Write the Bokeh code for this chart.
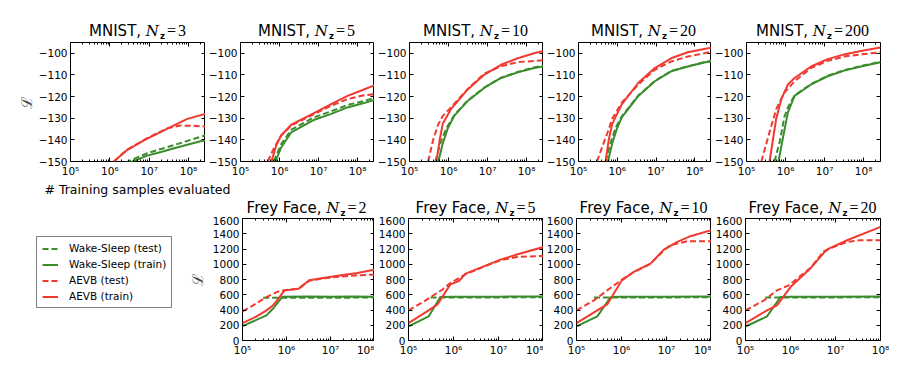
from bokeh.plotting import figure
from bokeh.layouts import row, column
from bokeh.models import (FixedTicker, CustomJSTickFormatter, LinearAxis, LogAxis,
                          Legend, LegendItem, Range1d, Div)
from bokeh.embed import file_html
from bokeh.resources import INLINE

# ---------------- data ----------------
mnist_nz = [3, 5, 10, 20, 200]
frey_nz = [2, 5, 10, 20]
series_labels = ["Wake-Sleep (test)", "Wake-Sleep (train)", "AEVB (test)", "AEVB (train)"]
mnist_yticks = [-150, -140, -130, -120, -110, -100]
frey_yticks = [0, 200, 400, 600, 800, 1000, 1200, 1400, 1600]
x_major = [1e5, 1e6, 1e7, 1e8]
x_label = "# Training samples evaluated"
y_label = "\u2112"

# MNIST, Nz=3
m3_ws_test_x = [2.5e6, 8.9e6, 2.0e7, 4.3e7, 2.0e8, 2.7e8]
m3_ws_test_y = [-150.5, -146.2, -144.2, -142.4, -138.6, -137.9]
m3_ws_train_x = [2.8e6, 8.9e6, 2.0e7, 4.3e7, 2.0e8, 2.7e8]
m3_ws_train_y = [-151.0, -147.3, -145.6, -143.9, -140.6, -140.2]
m3_aevb_test_x = [1.26e6, 2.75e6, 5.0e6, 8.9e6, 1.95e7, 2.9e7, 6.3e7, 1.26e8, 2.7e8]
m3_aevb_test_y = [-150.0, -144.5, -141.8, -139.2, -136.2, -134.6, -133.4, -133.5, -133.8]
m3_aevb_train_x = [1.26e6, 2.75e6, 5.0e6, 8.9e6, 1.95e7, 2.9e7, 9.3e7, 2.7e8]
m3_aevb_train_y = [-150.0, -144.7, -142.0, -139.4, -136.4, -134.8, -130.3, -128.0]

# MNIST, Nz=5
m5_ws_test_x = [7.1e5, 1.1e6, 2.0e6, 7.8e6, 2.1e7, 5.5e7, 1.45e8, 2.7e8]
m5_ws_test_y = [-150.0, -142.0, -135.3, -129.5, -126.8, -123.9, -122.0, -120.6]
m5_ws_train_x = [7.9e5, 1.1e6, 2.0e6, 7.8e6, 2.1e7, 5.5e7, 1.45e8, 2.7e8]
m5_ws_train_y = [-150.0, -143.5, -136.5, -130.7, -128.0, -125.0, -123.0, -121.5]
m5_aevb_test_x = [5.0e5, 6.8e5, 1.1e6, 2.0e6, 7.8e6, 2.1e7, 5.5e7, 1.45e8, 2.7e8]
m5_aevb_test_y = [-150.0, -144.7, -137.9, -133.3, -128.0, -124.2, -121.2, -119.4, -118.9]
m5_aevb_train_x = [6.2e5, 8.3e5, 1.1e6, 2.0e6, 7.8e6, 2.1e7, 5.5e7, 1.45e8, 2.7e8]
m5_aevb_train_y = [-150.0, -142.4, -138.0, -133.0, -127.5, -123.5, -119.7, -116.7, -114.8]

# MNIST, Nz=10
m10_ws_test_x = [4.6e5, 6.3e5, 8.9e5, 1.41e6, 3.1e6, 8.3e6, 2.2e7, 5.9e7, 1.55e8, 2.7e8]
m10_ws_test_y = [-150.0, -141.0, -134.5, -128.5, -121.8, -115.8, -111.3, -108.6, -106.5, -105.7]
m10_ws_train_x = [5.5e5, 7.1e5, 9.5e5, 1.41e6, 3.1e6, 8.3e6, 2.2e7, 5.9e7, 1.55e8, 2.7e8]
m10_ws_train_y = [-150.0, -141.7, -134.8, -128.8, -122.0, -115.9, -111.4, -108.8, -106.8, -106.0]
m10_aevb_test_x = [3.0e5, 4.0e5, 5.4e5, 7.1e5, 1.15e6, 3.1e6, 8.3e6, 2.2e7, 5.9e7, 1.55e8, 2.7e8]
m10_aevb_test_y = [-150.0, -140.2, -133.0, -129.0, -125.0, -116.5, -109.3, -106.0, -104.1, -103.5, -103.2]
m10_aevb_train_x = [4.9e5, 5.9e5, 7.1e5, 1.15e6, 3.1e6, 8.3e6, 2.2e7, 5.9e7, 1.55e8, 2.7e8]
m10_aevb_train_y = [-150.0, -140.2, -132.6, -125.8, -116.7, -109.8, -105.3, -102.3, -100.0, -98.9]

# MNIST, Nz=20
m20_ws_test_x = [5.0e5, 6.8e5, 9.3e5, 1.32e6, 3.5e6, 9.3e6, 2.45e7, 6.6e7, 1.74e8, 2.7e8]
m20_ws_test_y = [-150.0, -141.0, -134.0, -129.0, -119.5, -112.8, -108.2, -106.0, -104.1, -103.5]
m20_ws_train_x = [5.75e5, 7.4e5, 9.8e5, 1.32e6, 3.5e6, 9.3e6, 2.45e7, 6.6e7, 1.74e8, 2.7e8]
m20_ws_train_y = [-150.0, -141.7, -134.8, -129.5, -119.7, -112.9, -108.3, -106.1, -104.2, -103.6]
m20_aevb_test_x = [3.0e5, 4.1e5, 5.5e5, 7.4e5, 1.32e6, 3.5e6, 9.3e6, 2.45e7, 6.6e7, 1.74e8, 2.7e8]
m20_aevb_test_y = [-150.0, -143.2, -137.1, -130.3, -122.7, -114.4, -107.6, -103.8, -101.5, -100.0, -99.3]
m20_aevb_train_x = [5.0e5, 6.0e5, 7.4e5, 1.32e6, 3.5e6, 9.3e6, 2.45e7, 6.6e7, 1.74e8, 2.7e8]
m20_aevb_train_y = [-150.0, -140.2, -132.6, -123.5, -113.6, -106.8, -102.3, -99.5, -98.0, -97.4]

# MNIST, Nz=200
m200_ws_test_x = [5.2e5, 7.1e5, 9.3e5, 1.15e6, 1.7e6, 4.5e6, 1.2e7, 3.16e7, 8.5e7, 2.7e8]
m200_ws_test_y = [-150.0, -140.9, -129.5, -125.0, -119.5, -114.2, -110.4, -107.8, -105.9, -103.9]
m200_ws_train_x = [6.6e5, 8.5e5, 1.15e6, 1.7e6, 4.5e6, 1.2e7, 3.16e7, 8.5e7, 2.7e8]
m200_ws_train_y = [-150.0, -139.4, -127.3, -119.7, -114.4, -110.6, -108.0, -106.1, -104.1]
m200_aevb_test_x = [2.4e5, 2.9e5, 3.9e5, 5.75e5, 9.3e5, 1.7e6, 4.5e6, 1.2e7, 3.16e7, 8.5e7, 2.7e8]
m200_aevb_test_y = [-150.0, -144.7, -136.4, -125.8, -118.2, -112.9, -106.8, -103.5, -101.5, -100.5, -99.5]
m200_aevb_train_x = [3.9e5, 4.8e5, 5.75e5, 7.8e5, 1.15e6, 1.7e6, 4.5e6, 1.2e7, 3.16e7, 8.5e7, 2.7e8]
m200_aevb_train_y = [-150.0, -139.4, -130.3, -121.2, -114.4, -111.4, -106.1, -102.7, -100.5, -98.9, -97.3]

# Frey Face, Nz=2
f2_ws_test_x = [2.95e5, 1e6, 1e7, 1e8]
f2_ws_test_y = [560, 560, 560, 565]
f2_ws_train_x = [1e5, 3.5e5, 4.9e5, 8.1e5, 3.2e6, 1e7, 3.2e7, 1e8]
f2_ws_train_y = [188, 329, 416, 575, 578, 575, 577, 575]
f2_aevb_test_x = [1e5, 1.74e5, 3.5e5, 6.3e5, 8.9e5, 1.9e6, 3.3e6, 7.4e6, 1.74e7, 4.1e7, 1e8]
f2_aevb_test_y = [381, 460, 570, 640, 660, 680, 785, 815, 840, 855, 864]
f2_aevb_train_x = [1e5, 2.0e5, 3.5e5, 4.9e5, 6.0e5, 8.9e5, 1.9e6, 3.3e6, 7.4e6, 1.74e7, 4.1e7, 1e8]
f2_aevb_train_y = [228, 310, 395, 460, 520, 655, 680, 790, 824, 855, 886, 929]

# Frey Face, Nz=5
f5_ws_test_x = [3.1e5, 1e6, 1e7, 1e8]
f5_ws_test_y = [565, 565, 565, 568]
f5_ws_train_x = [1e5, 2.8e5, 5.1e5, 1e6, 1e7, 1e8]
f5_ws_train_y = [184, 316, 570, 575, 575, 577]
f5_aevb_test_x = [1e5, 2.4e5, 5.6e5, 8.5e5, 1.86e6, 4.7e6, 1.1e7, 2.57e7, 1e8]
f5_aevb_test_y = [395, 526, 666, 754, 870, 968, 1052, 1096, 1109]
f5_aevb_train_x = [1e5, 2.8e5, 4.4e5, 8.5e5, 1.32e6, 1.86e6, 4.7e6, 1.1e7, 2.57e7, 1e8]
f5_aevb_train_y = [228, 395, 473, 736, 780, 877, 973, 1061, 1127, 1227]

# Frey Face, Nz=10
f10_ws_test_x = [2.45e5, 1e6, 1e7, 1e8]
f10_ws_test_y = [565, 565, 565, 568]
f10_ws_train_x = [1e5, 2.9e5, 5.75e5, 1e6, 1e7, 1e8]
f10_ws_train_y = [184, 316, 570, 575, 575, 577]
f10_aevb_test_x = [1e5, 2.45e5, 4.8e5, 1.02e6, 1.86e6, 4.4e6, 8.7e6, 1.23e7, 2.9e7, 1e8]
f10_aevb_test_y = [395, 526, 657, 798, 895, 1005, 1180, 1250, 1302, 1302]
f10_aevb_train_x = [1e5, 2.9e5, 4.8e5, 1.02e6, 1.86e6, 4.4e6, 8.7e6, 1.74e7, 3.4e7, 1e8]
f10_aevb_train_y = [228, 395, 473, 789, 899, 1008, 1192, 1293, 1368, 1447]

# Frey Face, Nz=20
f20_ws_test_x = [2.75e5, 1e6, 1e7, 1e8]
f20_ws_test_y = [565, 565, 565, 568]
f20_ws_train_x = [1e5, 3.0e5, 6.0e5, 1e6, 1e7, 1e8]
f20_ws_train_y = [184, 316, 570, 575, 575, 577]
f20_aevb_test_x = [1e5, 2.57e5, 5.0e5, 9.1e5, 2.75e6, 5.5e6, 9.1e6, 1.82e7, 3.6e7, 1e8]
f20_aevb_test_y = [395, 526, 657, 723, 950, 1170, 1227, 1293, 1315, 1315]
f20_aevb_train_x = [1e5, 3.0e5, 5.0e5, 1e6, 2.75e6, 5.5e6, 7.1e6, 1.82e7, 1e8]
f20_aevb_train_y = [228, 395, 460, 701, 943, 1150, 1206, 1315, 1490]

mnist_series = [
    [(m3_ws_test_x, m3_ws_test_y), (m3_ws_train_x, m3_ws_train_y), (m3_aevb_test_x, m3_aevb_test_y), (m3_aevb_train_x, m3_aevb_train_y)],
    [(m5_ws_test_x, m5_ws_test_y), (m5_ws_train_x, m5_ws_train_y), (m5_aevb_test_x, m5_aevb_test_y), (m5_aevb_train_x, m5_aevb_train_y)],
    [(m10_ws_test_x, m10_ws_test_y), (m10_ws_train_x, m10_ws_train_y), (m10_aevb_test_x, m10_aevb_test_y), (m10_aevb_train_x, m10_aevb_train_y)],
    [(m20_ws_test_x, m20_ws_test_y), (m20_ws_train_x, m20_ws_train_y), (m20_aevb_test_x, m20_aevb_test_y), (m20_aevb_train_x, m20_aevb_train_y)],
    [(m200_ws_test_x, m200_ws_test_y), (m200_ws_train_x, m200_ws_train_y), (m200_aevb_test_x, m200_aevb_test_y), (m200_aevb_train_x, m200_aevb_train_y)],
]
frey_series = [
    [(f2_ws_test_x, f2_ws_test_y), (f2_ws_train_x, f2_ws_train_y), (f2_aevb_test_x, f2_aevb_test_y), (f2_aevb_train_x, f2_aevb_train_y)],
    [(f5_ws_test_x, f5_ws_test_y), (f5_ws_train_x, f5_ws_train_y), (f5_aevb_test_x, f5_aevb_test_y), (f5_aevb_train_x, f5_aevb_train_y)],
    [(f10_ws_test_x, f10_ws_test_y), (f10_ws_train_x, f10_ws_train_y), (f10_aevb_test_x, f10_aevb_test_y), (f10_aevb_train_x, f10_aevb_train_y)],
    [(f20_ws_test_x, f20_ws_test_y), (f20_ws_train_x, f20_ws_train_y), (f20_aevb_test_x, f20_aevb_test_y), (f20_aevb_train_x, f20_aevb_train_y)],
]

# ---------------- styling / layout ----------------
GREEN = "#3a8c2c"
RED = "#f03a30"
STYLES = [(GREEN, "6 3"), (GREEN, "solid"), (RED, "6 3"), (RED, "solid")]
LW = 2
FONT = "DejaVu Sans"
TICK_FS = "10.5px"
FW = 135
x_minor = [k * 10 ** e for e in range(5, 9) for k in range(2, 10)]

# borders (left, right) of each panel so frames line up with the reference
top_borders = [(70, 0), (34, 0), (34, 0), (33, 0), (34, 20)]
bot_borders = [(54, 0), (34, 0), (33, 0), (34, 20)]
LEGEND_W = 185

SUP = CustomJSTickFormatter(code="""
const s = {"0":"\u2070","1":"\u00b9","2":"\u00b2","3":"\u00b3","4":"\u2074","5":"\u2075","6":"\u2076","7":"\u2077","8":"\u2078","9":"\u2079"};
const e = Math.round(Math.log10(tick));
return "10" + String(e).split("").map(c => s[c]).join("");
""")
MINUS = CustomJSTickFormatter(code="""
return tick < 0 ? "\u2212" + Math.abs(tick) : String(tick);
""")


def blank_fmt():
    return CustomJSTickFormatter(code='return "";')


def style_axis(ax, minor):
    ax.axis_line_color = None
    ax.major_tick_in = 4
    ax.major_tick_out = 0
    ax.major_tick_line_color = "black"
    ax.minor_tick_in = 2 if minor else 0
    ax.minor_tick_out = 0
    ax.minor_tick_line_color = "black" if minor else None
    ax.major_label_text_font = FONT
    ax.major_label_text_font_size = TICK_FS
    ax.major_label_text_color = "black"
    ax.major_label_standoff = 3


def make_panel(lb, rb, top, fh, bottom, xmax, yr, yticks, ylabel, series, label_gap=0):
    p = figure(width=lb + FW + rb, height=top + fh + bottom, x_axis_type="log",
               x_range=Range1d(1e5, xmax), y_range=Range1d(*yr),
               min_border_left=lb, min_border_right=rb,
               min_border_top=top, min_border_bottom=bottom,
               toolbar_location=None, output_backend="svg",
               background_fill_color="white", border_fill_color="white")
    p.grid.visible = False
    p.outline_line_color = "black"
    p.outline_line_width = 1
    xa = p.xaxis[0]
    xa.ticker = FixedTicker(ticks=x_major, minor_ticks=x_minor)
    xa.formatter = SUP
    style_axis(xa, True)
    ya = p.yaxis[0]
    ya.ticker = FixedTicker(ticks=yticks, minor_ticks=[])
    ya.formatter = MINUS
    style_axis(ya, False)
    if ylabel:
        ya.axis_label = ylabel
        ya.axis_label_text_font = "DejaVu Serif"
        ya.axis_label_text_font_style = "normal"
        ya.axis_label_text_font_size = "15px"
        ya.axis_label_standoff = label_gap
    ta = LogAxis(ticker=FixedTicker(ticks=x_major, minor_ticks=x_minor), formatter=blank_fmt())
    style_axis(ta, True)
    ta.major_label_text_font_size = "0px"
    ta.major_label_standoff = 0
    p.add_layout(ta, "above")
    ra = LinearAxis(ticker=FixedTicker(ticks=yticks, minor_ticks=[]), formatter=blank_fmt())
    style_axis(ra, False)
    ra.major_label_text_font_size = "0px"
    ra.major_label_standoff = 0
    p.add_layout(ra, "right")
    for (xs, ys), (col, dash) in zip(series, STYLES):
        p.line(xs, ys, line_color=col, line_width=LW, line_dash=dash)
    return p


def frame_lefts(borders, start):
    lefts, x = [], start
    for lb, rb in borders:
        lefts.append(x + lb)
        x += lb + FW + rb
    return lefts


def title_span(prefix, nz, left, top):
    inner = (f"{prefix}<span style=\"font-family:'DejaVu Serif';font-style:italic\">N</span>"
             f"<span style=\"font-size:8.5px;font-weight:bold;vertical-align:-3px;margin-left:1px\">z</span>"
             f"<span style=\"font-family:'Liberation Serif';font-size:16px;margin-left:2px\">=</span>"
             f"<span style=\"font-family:'Liberation Serif';font-size:16px;margin-left:2px\">{nz}</span>")
    return (f"<div style=\"position:absolute;left:{left}px;top:{top}px;width:{FW}px;text-align:center;"
            f"white-space:nowrap;font-family:'DejaVu Sans';font-size:15px;line-height:15px;color:black\">"
            f"{inner}</div>")


def box(html, w, h):
    return f"<div style=\"position:relative;width:{w}px;height:{h}px;margin:0;padding:0\">{html}</div>"


TOP_DIV_H, MID_DIV_H = 40, 37
TOP_T, TOP_FH, TOP_B = 2, 121, 16
BOT_T, BOT_FH, BOT_B = 2, 122, 22

tops = []
for i, nz in enumerate(mnist_nz):
    lb, rb = top_borders[i]
    tops.append(make_panel(lb, rb, TOP_T, TOP_FH, TOP_B, 2.7e8, (-150, -95), mnist_yticks,
                           y_label if i == 0 else None, mnist_series[i]))

bots = []
for i, nz in enumerate(frey_nz):
    lb, rb = bot_borders[i]
    bots.append(make_panel(lb, rb, BOT_T, BOT_FH, BOT_B, 1e8, (0, 1600), frey_yticks,
                           y_label if i == 0 else None, frey_series[i], label_gap=3))

total_w = sum(l + FW + r for l, r in top_borders)
top_html = "".join(title_span("MNIST, ", nz, x, 23)
                   for nz, x in zip(mnist_nz, frame_lefts(top_borders, 0)))
p1_left = frame_lefts(top_borders, 0)[0]
mid_html = (f"<div style=\"position:absolute;left:{p1_left + FW / 2 - 110}px;top:5px;width:220px;"
            f"text-align:center;white-space:nowrap;font-family:'DejaVu Sans';font-size:12.5px;"
            f"line-height:12.5px;color:black\">{x_label}</div>")
mid_html += "".join(title_span("Frey Face, ", nz, x, 21)
                    for nz, x in zip(frey_nz, frame_lefts(bot_borders, LEGEND_W)))
top_title = Div(text=box(top_html, total_w, TOP_DIV_H), width=total_w, height=TOP_DIV_H, margin=0)
mid_title = Div(text=box(mid_html, total_w, MID_DIV_H), width=total_w, height=MID_DIV_H, margin=0)

# legend-only panel (proxy lines lie outside its visible range)
lf = figure(width=LEGEND_W, height=BOT_T + BOT_FH + BOT_B, x_axis_type=None, y_axis_type=None,
            x_range=Range1d(0, 1), y_range=Range1d(0, 1), min_border=0,
            toolbar_location=None, output_backend="svg",
            outline_line_color=None, background_fill_color="white", border_fill_color="white")
lf.grid.visible = False
items = []
for lab, (col, dash) in zip(series_labels, STYLES):
    r = lf.line(x=[0, 1], y=[-5, -5], line_color=col, line_width=LW, line_dash=dash)
    items.append(LegendItem(label=lab, renderers=[r]))
leg = Legend(items=items, location=(36, 32), border_line_color="black", border_line_width=1,
             background_fill_color="white", background_fill_alpha=1,
             label_text_font=FONT, label_text_font_size="10.5px", label_text_color="black",
             glyph_width=16, glyph_height=11, label_height=11, spacing=4, padding=5,
             margin=0, label_standoff=11)
lf.add_layout(leg)

layout = column(top_title, row(*tops, spacing=0), mid_title, row(lf, *bots, spacing=0), spacing=0)
open("out.html", "w").write(file_html(layout, INLINE))
